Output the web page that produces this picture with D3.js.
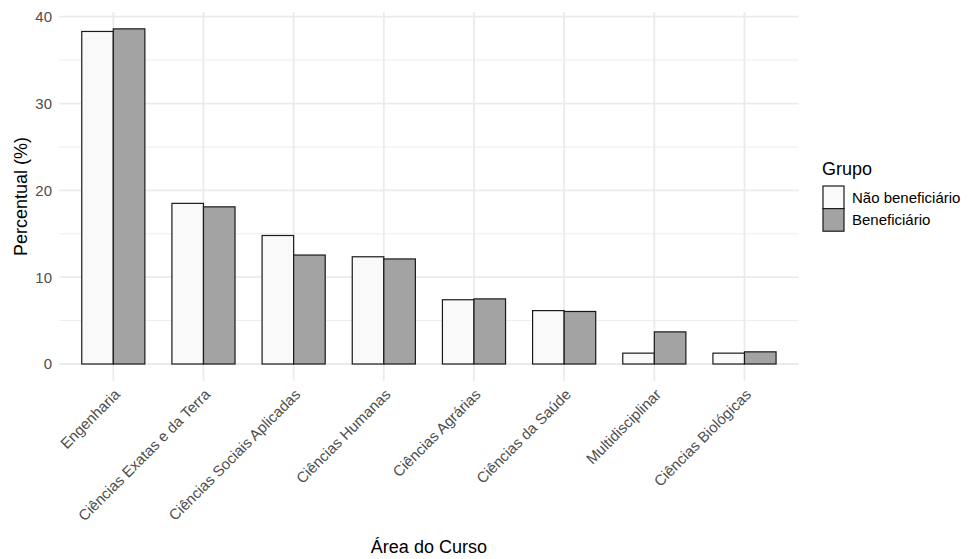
<!DOCTYPE html>
<html><head><meta charset="utf-8">
<script src="https://cdn.jsdelivr.net/npm/d3@7"></script>
<style>body{margin:0;background:#fff}svg{display:block;font-family:"Liberation Sans",Arial,sans-serif}</style>
</head><body><svg id="c" width="973" height="559"></svg>
<script>
const categories = ["Engenharia","Ciências Exatas e da Terra","Ciências Sociais Aplicadas","Ciências Humanas","Ciências Agrárias","Ciências da Saúde","Multidisciplinar","Ciências Biológicas"];
const groups = ["Não beneficiário","Beneficiário"];
const naoBeneficiario = [38.3,18.5,14.8,12.35,7.4,6.15,1.25,1.25];
const beneficiario = [38.6,18.1,12.55,12.1,7.5,6.05,3.7,1.4];
const yTicks = [0,10,20,30,40];
const yMinor = [5,15,25,35];
const colors = ["#f9f9f9","#a3a3a3"];

const svg = d3.select("#c");
const panel = {left:59.2,right:798.6,top:12.1,bottom:380.8};
const x = d3.scaleBand().domain(categories).range([panel.left,panel.right]).paddingInner(0.3).paddingOuter(0.25);
const xg = d3.scaleBand().domain(groups).range([0,x.bandwidth()]).padding(0);
const y = d3.scaleLinear().domain([0,40]).range([364,16.7]);

const grid = svg.append("g");
yMinor.forEach(v=>grid.append("line").attr("x1",panel.left).attr("x2",panel.right).attr("y1",y(v)).attr("y2",y(v)).attr("stroke","#ebebeb").attr("stroke-width",0.9));
yTicks.forEach(v=>grid.append("line").attr("x1",panel.left).attr("x2",panel.right).attr("y1",y(v)).attr("y2",y(v)).attr("stroke","#ebebeb").attr("stroke-width",1.8));
categories.forEach(c=>{const cx=x(c)+x.bandwidth()/2;grid.append("line").attr("x1",cx).attr("x2",cx).attr("y1",panel.top).attr("y2",panel.bottom).attr("stroke","#ebebeb").attr("stroke-width",1.8);});

const data = [];
categories.forEach((c,i)=>{data.push({c,g:groups[0],v:naoBeneficiario[i]});data.push({c,g:groups[1],v:beneficiario[i]});});
svg.append("g").selectAll("rect").data(data).join("rect")
  .attr("x",d=>x(d.c)+xg(d.g)).attr("width",xg.bandwidth())
  .attr("y",d=>y(d.v)).attr("height",d=>y(0)-y(d.v))
  .attr("fill",d=>colors[groups.indexOf(d.g)]).attr("stroke","#1a1a1a").attr("stroke-width",1.2);

// y axis labels
const ya = svg.append("g");
yTicks.forEach(v=>ya.append("text").attr("x",52).attr("y",y(v)).attr("dy","0.36em").attr("text-anchor","end").attr("font-size",15).attr("fill","#4d4d4d").text(v));
// x axis labels
const xa = svg.append("g");
categories.forEach(c=>{const cx=x(c)+x.bandwidth()/2;
  xa.append("text").attr("transform",`translate(${cx},${panel.bottom+7}) rotate(-45)`).attr("text-anchor","end").attr("dy","0.72em").attr("font-size",15).attr("fill","#4d4d4d").text(c);});
// titles
svg.append("text").attr("x",(panel.left+panel.right)/2).attr("y",553).attr("text-anchor","middle").attr("font-size",18).attr("fill","#000").text("Área do Curso");
svg.append("text").attr("transform",`translate(27,${(panel.top+panel.bottom)/2}) rotate(-90)`).attr("text-anchor","middle").attr("font-size",18).attr("fill","#000").text("Percentual (%)");
// legend
const lg = svg.append("g");
lg.append("text").attr("x",822).attr("y",175).attr("font-size",18).attr("fill","#000").text("Grupo");
groups.forEach((g,i)=>{
  lg.append("rect").attr("x",823).attr("y",186+i*22.6).attr("width",21).attr("height",22.6).attr("fill",colors[i]).attr("stroke","#1a1a1a").attr("stroke-width",1.2);
  lg.append("text").attr("x",852).attr("y",186+i*22.6+11.3).attr("dy","0.35em").attr("font-size",15).attr("fill","#000").text(g);
});
</script></body></html>
